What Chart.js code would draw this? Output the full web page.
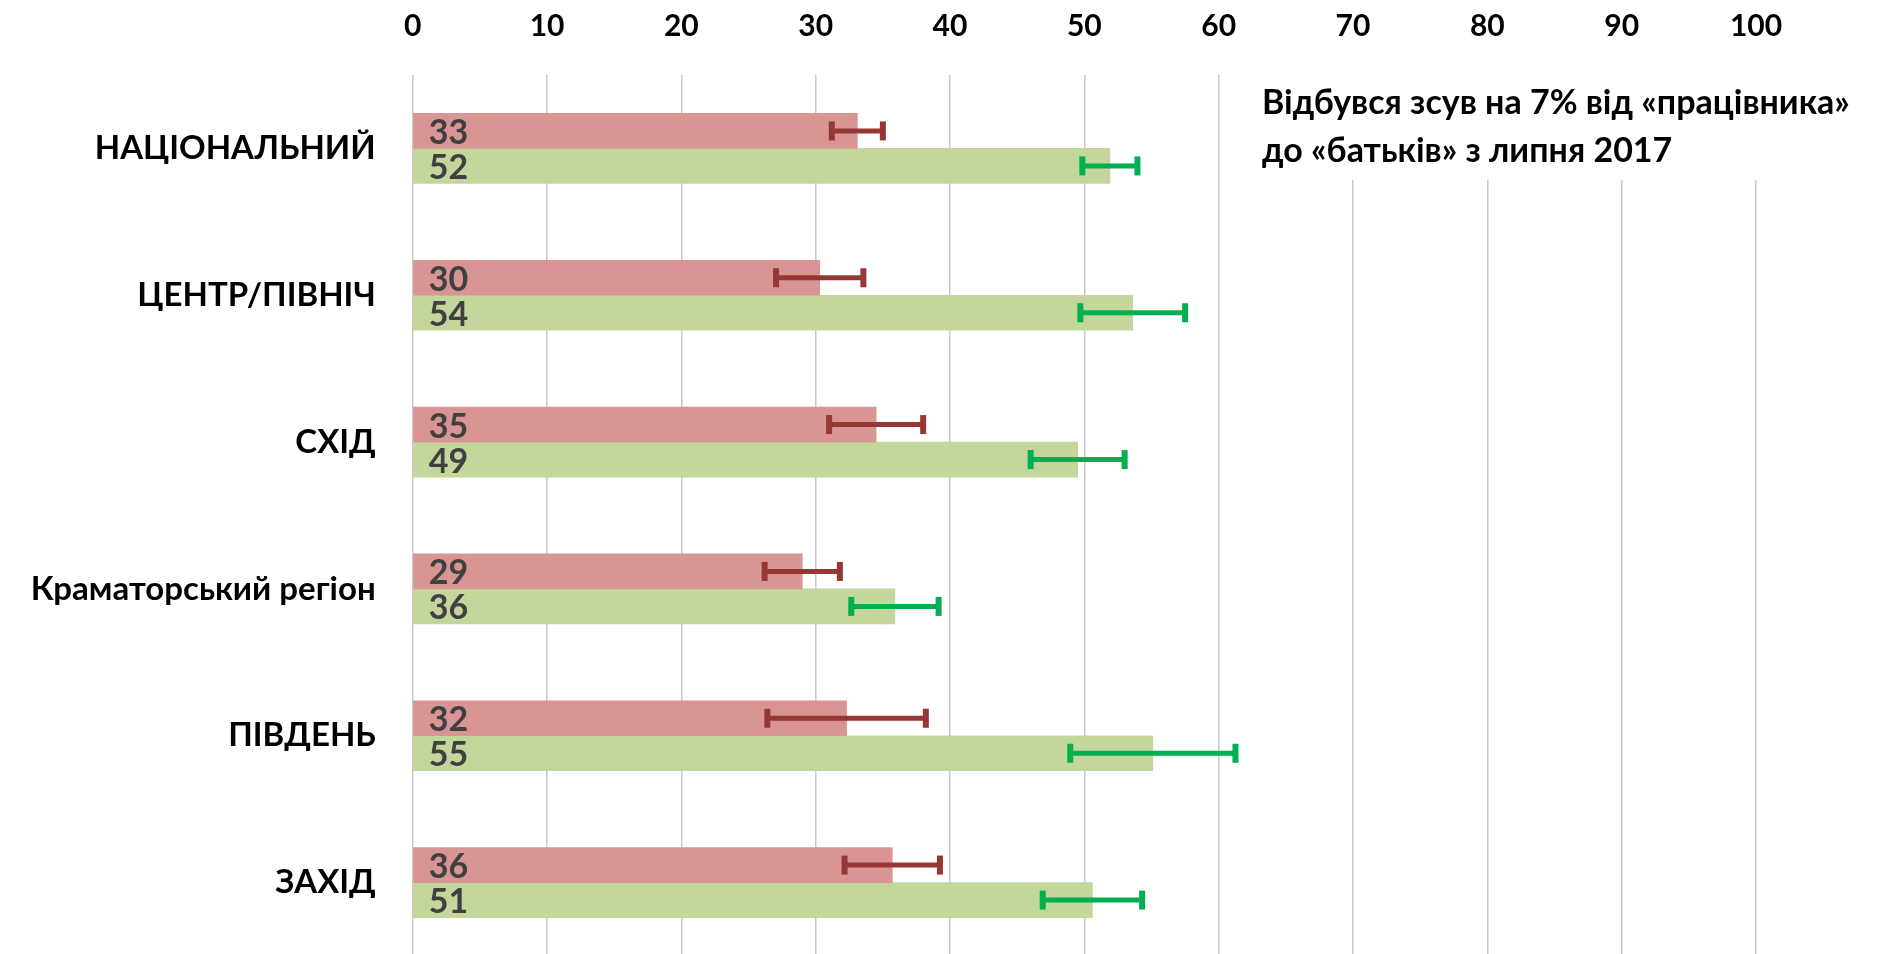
<!DOCTYPE html>
<html><head><meta charset="utf-8">
<script src="https://cdn.jsdelivr.net/npm/chart.js@4.4.1/dist/chart.umd.min.js"></script>
<style>html,body{margin:0;padding:0;background:#fff;overflow:hidden}
canvas{display:block}</style>
</head><body><canvas id="c" width="1879" height="957" style="width:1879px;height:957px"></canvas>
<script>
const categories = ['НАЦІОНАЛЬНИЙ', 'ЦЕНТР/ПІВНІЧ', 'СХІД', 'Краматорський регіон', 'ПІВДЕНЬ', 'ЗАХІД'];
const workerValues = [33.1, 30.3, 34.5, 29.0, 32.3, 35.7];
const workerLabels = [33, 30, 35, 29, 32, 36];
const workerErrors = [1.9, 3.25, 3.5, 2.8, 5.9, 3.55];
const parentValues = [51.9, 53.6, 49.5, 35.9, 55.1, 50.6];
const parentLabels = [52, 54, 49, 36, 55, 51];
const parentErrors = [2.05, 3.9, 3.5, 3.25, 6.15, 3.7];
const xTickValues = [0, 10, 20, 30, 40, 50, 60, 70, 80, 90, 100];
const noteLines = ['Відбувся зсув на 7% від «працівника»', 'до «батьків» з липня 2017'];

const FONT = 'Lato, "Open Sans", sans-serif';
const seriesLabels = [workerLabels, parentLabels];
const seriesErrors = [workerErrors, parentErrors];
const errColors = ['#953735', '#00B050'];

const errorBarPlugin = {
  id: 'errorBars',
  afterDatasetsDraw(chart) {
    const ctx = chart.ctx, xs = chart.scales.x;
    chart.data.datasets.forEach((ds, i) => {
      const meta = chart.getDatasetMeta(i);
      meta.data.forEach((el, j) => {
        const v = ds.data[j], e = seriesErrors[i][j];
        const x1 = xs.getPixelForValue(v - e), x2 = xs.getPixelForValue(v + e);
        const y = el.y;
        ctx.save();
        ctx.strokeStyle = errColors[i];
        ctx.fillStyle = errColors[i];
        ctx.lineWidth = 5;
        ctx.beginPath(); ctx.moveTo(x1, y); ctx.lineTo(x2, y); ctx.stroke();
        ctx.fillRect(x1 - 3, y - 9.5, 6, 19);
        ctx.fillRect(x2 - 3, y - 9.5, 6, 19);
        ctx.restore();
      });
    });
    const x0 = xs.getPixelForValue(0);
    chart.data.datasets.forEach((ds, i) => {
      const meta = chart.getDatasetMeta(i);
      meta.data.forEach((el, j) => {
        ctx.save();
        ctx.font = 'bold 34px ' + FONT;
        ctx.fillStyle = '#404040';
        ctx.textAlign = 'left';
        ctx.textBaseline = 'middle';
        ctx.fillText(String(seriesLabels[i][j]), x0 + 16, el.y + 2);
        ctx.restore();
      });
    });
  }
};

const notePlugin = {
  id: 'note',
  afterDraw(chart) {
    const ctx = chart.ctx;
    ctx.save();
    ctx.fillStyle = '#ffffff';
    ctx.fillRect(1232, chart.chartArea.top - 2, 647, 182 - chart.chartArea.top);
    ctx.fillStyle = '#000000';
    ctx.font = 'bold 34px ' + FONT;
    ctx.textAlign = 'left';
    ctx.textBaseline = 'middle';
    ctx.fillText(noteLines[0], 1262, 103);
    ctx.fillText(noteLines[1], 1262, 151);
    ctx.restore();
  }
};

new Chart(document.getElementById('c'), {
  type: 'bar',
  data: {
    labels: categories,
    datasets: [
      { label: 'працівник', data: workerValues, backgroundColor: '#D99594', barThickness: 35, categoryPercentage: 0.522 },
      { label: 'батьки', data: parentValues, backgroundColor: '#C3D69B', barThickness: 35, categoryPercentage: 0.522 }
    ]
  },
  options: {
    indexAxis: 'y',
    responsive: false,
    maintainAspectRatio: false,
    devicePixelRatio: 1,
    animation: false,
    layout: { padding: { left: 0, right: 123, top: 0, bottom: 1 } },
    plugins: { legend: { display: false }, tooltip: { enabled: false } },
    scales: {
      x: {
        position: 'top',
        min: 0, max: 100,
        afterBuildTicks(scale) { scale.ticks = xTickValues.map(v => ({ value: v })); },
        afterFit(scale) { scale.height = 75; },
        grid: { color: '#C8C8C8', lineWidth: 1.5, drawTicks: false },
        border: { display: false },
        ticks: { color: '#000', font: { family: FONT, size: 30, weight: 'bold' }, padding: 31, maxRotation: 0 }
      },
      y: {
        afterFit(scale) { scale.width = 412.7; scale.paddingTop = 0; scale.paddingBottom = 0; },
        grid: { display: false, drawTicks: false },
        border: { display: false },
        ticks: { color: '#000', font: { family: FONT, size: 33, weight: 'bold' }, padding: 37 }
      }
    }
  },
  plugins: [errorBarPlugin, notePlugin]
});
</script></body></html>
